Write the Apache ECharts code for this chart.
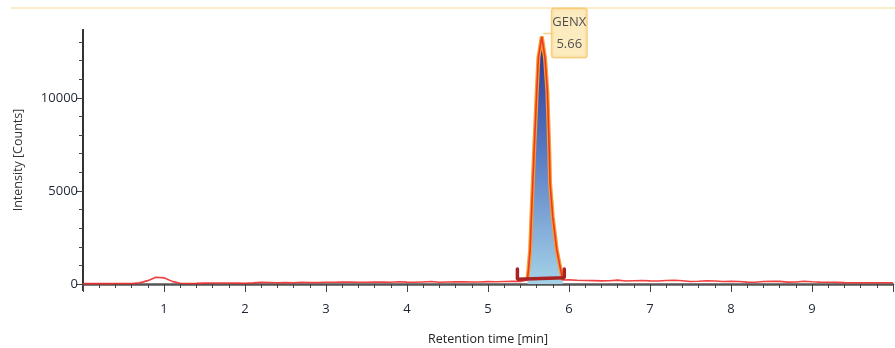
<!DOCTYPE html>
<html>
<head>
<meta charset="utf-8">
<script src="https://cdn.jsdelivr.net/npm/echarts@6/dist/echarts.min.js"></script>
<style>
  html, body { margin: 0; padding: 0; background: #fff; }
  #main { width: 895px; height: 348px; }
</style>
</head>
<body>
<div id="main"></div>
<script>
// baseline trace, one value every 0.1 min (0 .. 10), peak window left out
const baseTimes = []
for (let i = 0; i <= 100; i++) baseTimes.push(+(i / 10).toFixed(1))
const baseValues = [
  20, 20, 20, 20, 25, 25, 30, 60, 180, 360,
  330, 140, 40, 30, 35, 45, 50, 55, 50, 45,
  40, 60, 85, 80, 70, 75, 70, 90, 80, 75,
  95, 90, 100, 110, 95, 90, 100, 110, 95, 120,
  100, 90, 110, 130, 95, 110, 120, 115, 105, 110,
  125, 120, 130, 140, 140, 150, 160, 180, 200, 200,
  220, 200, 190, 180, 170, 175, 210, 160, 175, 185,
  170, 160, 185, 205, 175, 130, 150, 175, 160, 135,
  140, 130, 100, 95, 130, 150, 140, 100, 110, 145,
  120, 100, 90, 85, 75, 70, 65, 65, 70, 70,
  70
]

// GENX peak
const peakTimes = [5.486, 5.499, 5.520, 5.536, 5.553, 5.569, 5.602, 5.622, 5.664,
  5.704, 5.733, 5.757, 5.766, 5.799, 5.849, 5.898, 5.922]
const peakValues = [215, 750, 1830, 3620, 5430, 7110, 10340, 12150, 13300,
  12150, 10340, 7110, 5430, 3620, 1830, 750, 215]
const peakName = 'GENX'
const peakRT = '5.66'

// integration baseline with its end markers
const intTimes = [5.363, 5.363, 5.942, 5.942]
const intValues = [800, 250, 330, 800]

const xTicks = [1, 2, 3, 4, 5, 6, 7, 8, 9]
const yLabels = [0, 5000, 10000]
const yMinor = [0, 1000, 2000, 3000, 4000, 5000, 6000, 7000, 8000, 9000, 10000, 11000, 12000, 13000]

let trace = []
baseTimes.forEach((t, i) => {
  if (t < 5.45 || t > 5.95) trace.push([t, baseValues[i]])
})
peakTimes.forEach((t, i) => trace.push([t, peakValues[i]]))
trace.sort((a, b) => a[0] - b[0])

const peak = peakTimes.map((t, i) => [t, peakValues[i]])
const integ = intTimes.map((t, i) => [t, intValues[i]])
let apexIdx = peakValues.indexOf(Math.max(...peakValues))
const apex = [peakTimes[apexIdx], peakValues[apexIdx]]

const font = "'Open Sans', 'DejaVu Sans', sans-serif"
const yMin = -323, yMax = 13650

let chart = echarts.init(document.getElementById('main'))
chart.setOption({
  animation: false,
  backgroundColor: '#fff',
  graphic: [{
    type: 'line',
    shape: { x1: 11, y1: 8, x2: 895, y2: 8 },
    style: { stroke: '#fbecc8', lineWidth: 2 }
  }],
  grid: { left: 83, right: 2, top: 30, bottom: 58, containLabel: false, outerBoundsMode: 'none' },
  xAxis: {
    type: 'value',
    min: 0,
    max: 10,
    interval: 1,
    name: 'Retention time [min]',
    nameLocation: 'middle',
    nameGap: 43,
    nameTextStyle: { fontFamily: font, fontSize: 12.5, color: '#222' },
    axisLine: { lineStyle: { color: '#555', width: 2.5 } },
    axisTick: { length: 8, lineStyle: { color: '#444', width: 1 } },
    minorTick: { show: true, splitNumber: 5, length: 4, lineStyle: { color: '#444', width: 1 } },
    splitLine: { show: false },
    axisLabel: {
      margin: 13,
      fontFamily: font,
      fontSize: 13,
      color: '#1f2535',
      formatter: v => xTicks.includes(v) ? String(v) : ''
    }
  },
  yAxis: [{
    type: 'value',
    min: yMin,
    max: yMax,
    position: 'left',
    axisLine: { show: true, lineStyle: { color: '#333', width: 2 } },
    axisTick: { show: true, length: 4, customValues: yMinor, lineStyle: { color: '#444' } },
    axisLabel: { show: false },
    splitLine: { show: false }
  }, {
    type: 'value',
    min: yMin,
    max: yMax,
    position: 'left',
    name: 'Intensity [Counts]',
    nameLocation: 'middle',
    nameRotate: 90,
    nameGap: 58,
    nameTextStyle: { fontFamily: font, fontSize: 12.5, color: '#333' },
    axisLine: { show: true, lineStyle: { color: '#333', width: 2 } },
    axisTick: { show: true, length: 7, customValues: yLabels, lineStyle: { color: '#444' } },
    axisLabel: {
      customValues: yLabels,
      margin: 5,
      fontFamily: font,
      fontSize: 13,
      color: '#1f2535',
      formatter: v => String(v)
    },
    splitLine: { show: false }
  }],
  series: [{
    name: 'peak',
    type: 'line',
    data: peak,
    showSymbol: false,
    lineStyle: { color: '#f5a02a', width: 4 },
    areaStyle: {
      opacity: 1,
      color: new echarts.graphic.LinearGradient(0, 0, 0, 1, [
        { offset: 0, color: '#28318f' },
        { offset: 0.45, color: '#5677c2' },
        { offset: 1, color: '#a4d2e8' }
      ])
    },
    z: 2
  }, {
    name: 'trace',
    type: 'line',
    data: trace,
    showSymbol: false,
    lineStyle: { color: '#ee2b2b', width: 1.6, opacity: 0.9 },
    z: 3
  }, {
    name: 'integration',
    type: 'line',
    data: integ,
    showSymbol: false,
    lineStyle: { color: '#a82323', width: 3.5, cap: 'round' },
    z: 4
  }, {
    name: 'connector',
    type: 'scatter',
    data: [apex],
    symbol: 'rect',
    symbolSize: [11, 1.5],
    symbolOffset: [7, -3],
    itemStyle: { color: '#f6c466' },
    z: 5
  }, {
    name: 'label',
    type: 'scatter',
    data: [apex],
    symbolSize: 1,
    itemStyle: { color: 'rgba(0,0,0,0)' },
    label: {
      show: true,
      position: [11, -27],
      formatter: '{a|' + peakName + '}\n{a|' + peakRT + '}',
      backgroundColor: '#fde6b0',
      borderColor: '#f6c466',
      borderWidth: 1.5,
      borderRadius: 2,
      padding: [2, 1, 2, 1],
      rich: {
        a: {
          width: 32,
          align: 'center',
          fontFamily: font,
          fontSize: 13,
          lineHeight: 22,
          color: '#1f2535'
        }
      }
    },
    z: 6
  }]
})
</script>
</body>
</html>
